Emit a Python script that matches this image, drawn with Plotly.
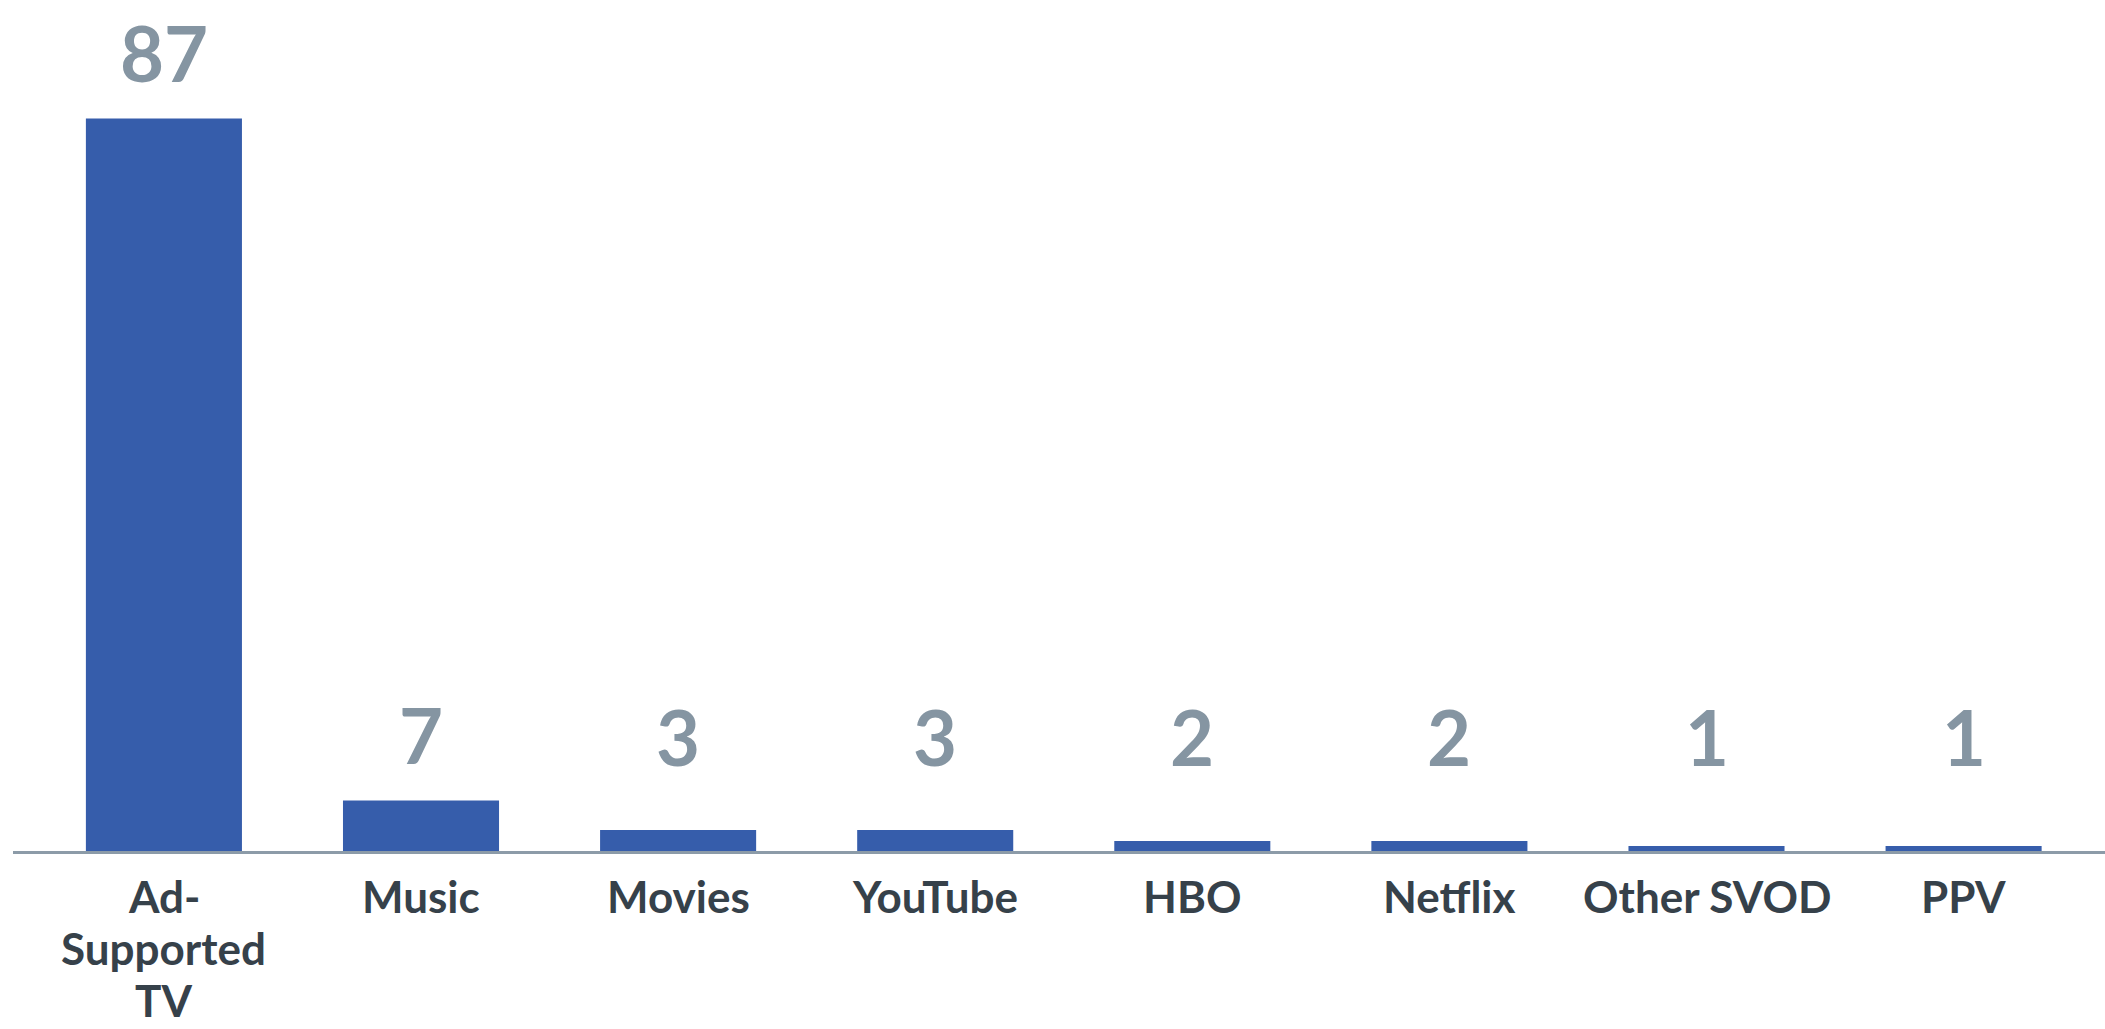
import plotly.graph_objects as go

categories = ["Ad-<br>Supported<br>TV", "Music", "Movies", "YouTube", "HBO", "Netflix", "Other SVOD", "PPV"]
bar_values = [87, 6.0, 2.5, 2.5, 1.2, 1.2, 0.6, 0.6]
value_labels = ["87", "7", "3", "3", "2", "2", "1", "1"]

BAR_COLOR = "#365DAB"
LABEL_COLOR = "#8595A2"
CAT_COLOR = "#36414A"
AXIS_COLOR = "#8C9BA8"
FONT = "Lato"

x_idx = list(range(len(categories)))

fig = go.Figure()
fig.add_trace(go.Bar(
    x=x_idx, y=bar_values,
    marker=dict(color=BAR_COLOR, line=dict(width=0)),
    width=0.607,
    hoverinfo="skip",
))

label_floor = 5.76
annotations = []
for i, (v, t) in enumerate(zip(bar_values, value_labels)):
    annotations.append(dict(
        x=i, y=max(v, label_floor), xref="x", yref="y",
        text=t, showarrow=False, yanchor="middle", yshift=66,
        font=dict(family=FONT, size=76, color=LABEL_COLOR, weight=700),
    ))
for i, cat in enumerate(categories):
    for j, line in enumerate(cat.split("<br>")):
        annotations.append(dict(
            x=i, y=0, xref="x", yref="y",
            text=line, showarrow=False, yanchor="middle",
            yshift=-(45 + j * 52),
            font=dict(family=FONT, size=44, color=CAT_COLOR, weight=700),
        ))

fig.update_layout(
    width=2105, height=1029,
    margin=dict(l=13, r=0, t=0, b=177.5),
    paper_bgcolor="white", plot_bgcolor="white",
    showlegend=False,
    annotations=annotations,
    xaxis=dict(
        range=[-0.587, 7.55], showticklabels=False, ticks="",
        showgrid=False, zeroline=False,
        showline=True, linecolor=AXIS_COLOR, linewidth=2.5,
        fixedrange=True,
    ),
    yaxis=dict(
        range=[0, 101.07], visible=False, showgrid=False, zeroline=False,
        fixedrange=True,
    ),
)

fig.write_html("out.html", config={"displayModeBar": False})
